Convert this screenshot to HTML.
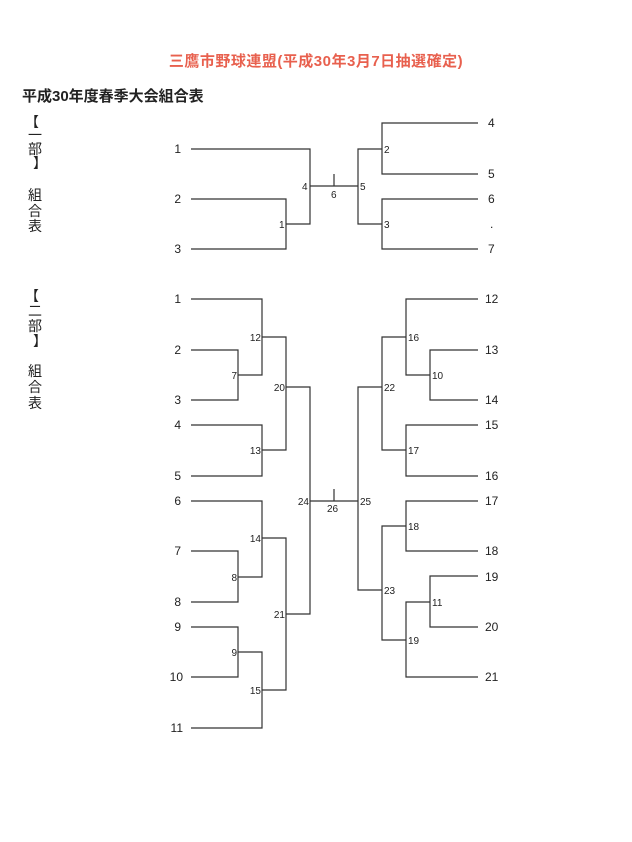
<!DOCTYPE html>
<html><head><meta charset="utf-8"><style>
html,body{margin:0;padding:0;background:#fff;}
svg{display:block;}
text{font-family:"Liberation Sans","Noto Sans CJK JP",sans-serif;fill:#222;}
.t{font-size:12px;}
.j{font-size:10px;}
.v{font-size:14px;}
</style></head><body>
<svg width="632" height="842" viewBox="0 0 632 842" xmlns="http://www.w3.org/2000/svg">
<text x="316" y="66" text-anchor="middle" style="font-size:15px;font-weight:bold;fill:#e8604e;letter-spacing:0.5px">三鷹市野球連盟(平成30年3月7日抽選確定)</text>
<text x="22" y="101" style="font-size:15px;font-weight:bold;fill:#222">平成30年度春季大会組合表</text>
<g class="v" text-anchor="middle">
<text x="32" y="127">【</text><text x="35" y="140">一</text><text x="35" y="154">部</text><text x="40" y="168">】</text>
<text x="35" y="200">組</text><text x="35" y="216">合</text><text x="35" y="231">表</text>
<text x="32" y="301">【</text><text x="35" y="316">二</text><text x="35" y="331">部</text><text x="40" y="346">】</text>
<text x="35" y="376">組</text><text x="35" y="392">合</text><text x="35" y="408">表</text>
</g>
<g stroke="#333" stroke-width="1.2" fill="none">
<polyline points="191,149 310,149 310,224 286,224"/>
<polyline points="191,199 286,199 286,249 191,249"/>
<line x1="310" y1="186" x2="358" y2="186"/>
<line x1="334" y1="174" x2="334" y2="186"/>
<polyline points="382,149 358,149 358,224 382,224"/>
<polyline points="478,123 382,123 382,174 478,174"/>
<polyline points="478,199 382,199 382,249 478,249"/>
<polyline points="191,350 238,350 238,400 191,400"/>
<polyline points="191,299 262,299 262,375 238,375"/>
<polyline points="191,425 262,425 262,476 191,476"/>
<polyline points="262,337 286,337 286,450 262,450"/>
<polyline points="191,551 238,551 238,602 191,602"/>
<polyline points="191,501 262,501 262,577 238,577"/>
<polyline points="191,627 238,627 238,677 191,677"/>
<polyline points="238,652 262,652 262,728 191,728"/>
<polyline points="262,538 286,538 286,690 262,690"/>
<polyline points="286,387 310,387 310,614 286,614"/>
<line x1="310" y1="501" x2="358" y2="501"/>
<line x1="334" y1="489" x2="334" y2="501"/>
<polyline points="382,387 358,387 358,590 382,590"/>
<polyline points="406,337 382,337 382,450 406,450"/>
<polyline points="478,299 406,299 406,375 430,375"/>
<polyline points="478,350 430,350 430,400 478,400"/>
<polyline points="478,425 406,425 406,476 478,476"/>
<polyline points="406,526 382,526 382,640 406,640"/>
<polyline points="478,501 406,501 406,551 478,551"/>
<polyline points="430,602 406,602 406,677 478,677"/>
<polyline points="478,576 430,576 430,627 478,627"/>
</g>
<g class="t" text-anchor="end">
<text x="181" y="153">1</text><text x="181" y="203">2</text><text x="181" y="253">3</text>
</g>
<g class="t">
<text x="488" y="127">4</text><text x="488" y="178">5</text><text x="488" y="203">6</text><text x="490" y="228">.</text><text x="488" y="253">7</text>
</g>
<g class="j">
<text x="302" y="190">4</text><text x="331" y="198">6</text><text x="360" y="190">5</text>
<text x="384" y="153">2</text><text x="384" y="228">3</text><text x="279" y="228">1</text>
</g>
<g class="t" text-anchor="end">
<text x="181" y="303">1</text><text x="181" y="354">2</text><text x="181" y="404">3</text>
<text x="181" y="429">4</text><text x="181" y="480">5</text><text x="181" y="505">6</text>
<text x="181" y="555">7</text><text x="181" y="606">8</text><text x="181" y="631">9</text>
<text x="183" y="681">10</text><text x="183" y="732">11</text>
</g>
<g class="t">
<text x="485" y="303">12</text><text x="485" y="354">13</text><text x="485" y="404">14</text>
<text x="485" y="429">15</text><text x="485" y="480">16</text><text x="485" y="505">17</text>
<text x="485" y="555">18</text><text x="485" y="581">19</text><text x="485" y="631">20</text>
<text x="485" y="681">21</text>
</g>
<g class="j" text-anchor="end">
<text x="261" y="341">12</text><text x="237" y="379">7</text><text x="261" y="454">13</text>
<text x="285" y="391">20</text><text x="261" y="542">14</text><text x="237" y="581">8</text>
<text x="237" y="656">9</text><text x="261" y="694">15</text><text x="285" y="618">21</text>
<text x="309" y="505">24</text>
</g>
<g class="j">
<text x="327" y="512">26</text><text x="360" y="505">25</text>
<text x="384" y="391">22</text><text x="408" y="341">16</text><text x="432" y="379">10</text>
<text x="408" y="454">17</text><text x="384" y="594">23</text><text x="408" y="530">18</text>
<text x="432" y="606">11</text><text x="408" y="644">19</text>
</g>
</svg>
</body></html>
